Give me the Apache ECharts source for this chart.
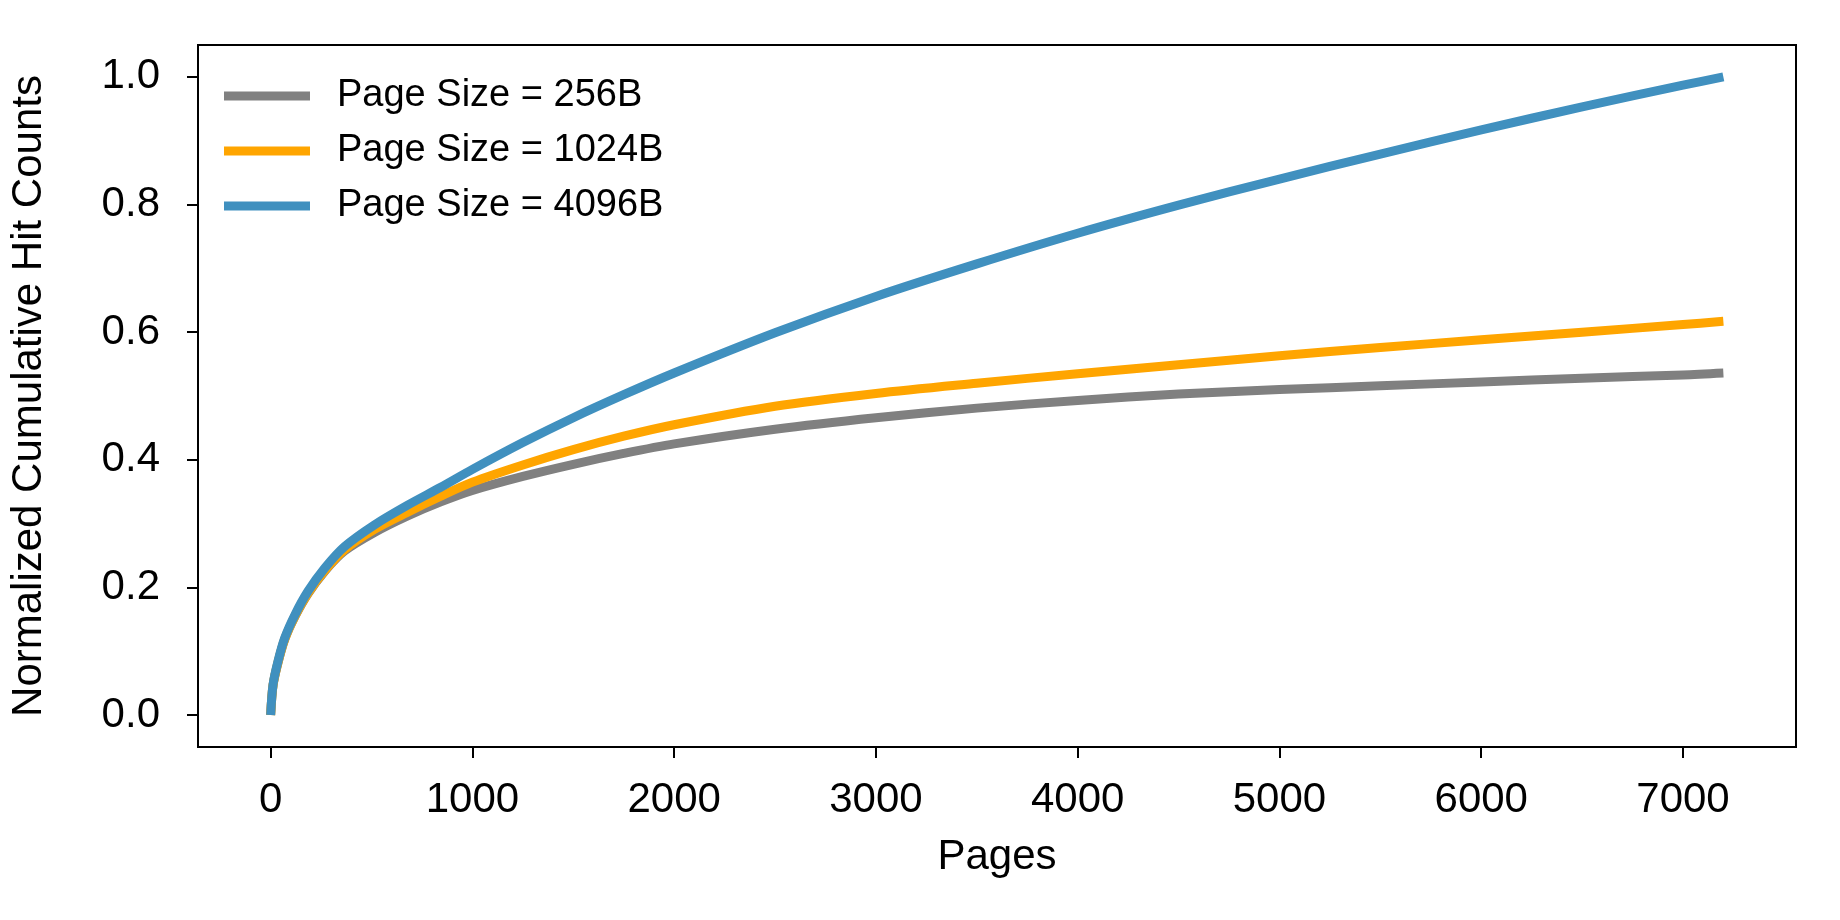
<!DOCTYPE html>
<html>
<head>
<meta charset="utf-8">
<script src="https://cdn.jsdelivr.net/npm/echarts@6/dist/echarts.min.js"></script>
<style>
  html, body { margin: 0; padding: 0; background: #fff; }
  #chart { width: 1840px; height: 920px; }
</style>
</head>
<body>
<div id="chart"></div>
<script>
// ---- data ----
const pages = [0, 12, 37, 70, 120, 185, 267, 366, 514, 679, 843, 1000, 1250, 1500, 1750,
  2000, 2500, 3000, 3500, 4000, 4500, 5000, 5500, 6000, 6500, 7000, 7200];

const hits256 = [0, 0.047, 0.083, 0.119, 0.154, 0.190, 0.225, 0.257, 0.286, 0.312, 0.334, 0.352, 0.374, 0.393, 0.410,
  0.425, 0.448, 0.466, 0.481, 0.493, 0.503, 0.510, 0.516, 0.522, 0.528, 0.533, 0.536];

const hits1024 = [0, 0.047, 0.083, 0.119, 0.155, 0.191, 0.226, 0.259, 0.291, 0.318, 0.343, 0.365, 0.392, 0.416, 0.437,
  0.455, 0.484, 0.504, 0.520, 0.535, 0.549, 0.563, 0.576, 0.588, 0.600, 0.612, 0.617];

const hits4096 = [0, 0.048, 0.085, 0.121, 0.157, 0.194, 0.230, 0.264, 0.298, 0.329, 0.357, 0.385, 0.427, 0.466, 0.502,
  0.536, 0.599, 0.656, 0.707, 0.755, 0.799, 0.840, 0.879, 0.917, 0.953, 0.987, 1.000];

const seriesNames = ['Page Size = 256B', 'Page Size = 1024B', 'Page Size = 4096B'];
const seriesColors = ['#808080', '#FFA500', '#4090bf'];

const xTicks = [0, 1000, 2000, 3000, 4000, 5000, 6000, 7000];
const yTicks = [0, 0.2, 0.4, 0.6, 0.8, 1.0];

const xLabel = 'Pages';
const yLabel = 'Normalized Cumulative Hit Counts';

// ---- chart ----
const FONT = 'Liberation Sans, Arial, sans-serif';
const chart = echarts.init(document.getElementById('chart'), null, { renderer: 'canvas' });

const allValues = [hits256, hits1024, hits4096];
const series = allValues.map((vals, i) => ({
  name: seriesNames[i],
  type: 'line',
  data: pages.map((p, j) => [p, vals[j]]),
  showSymbol: false,
  smooth: 0.3,
  lineStyle: { color: seriesColors[i], width: 9, cap: 'butt', join: 'round' },
  itemStyle: { color: seriesColors[i] },
  z: 2 + i
}));

const option = {
  animation: false,
  backgroundColor: '#ffffff',
  grid: {
    left: 194, right: 44, top: 45, bottom: 173,
    show: true, borderColor: '#000', borderWidth: 2, backgroundColor: 'transparent',
    containLabel: false
  },
  legend: {
    orient: 'vertical',
    left: 224,
    top: 77,
    padding: 0,
    itemWidth: 86,
    itemHeight: 9,
    itemGap: 17,
    icon: 'rect',
    data: seriesNames,
    textStyle: { fontFamily: FONT, fontSize: 38, color: '#000', padding: [0, 0, 0, 22] }
  },
  xAxis: {
    type: 'value',
    min: -360,
    max: 7560,
    name: xLabel,
    nameLocation: 'middle',
    nameGap: 89,
    nameTextStyle: { fontFamily: FONT, fontSize: 42, color: '#000' },
    axisLine: { show: true, onZero: false, lineStyle: { color: '#000', width: 2 } },
    axisTick: { show: true, length: 11, lineStyle: { color: '#000', width: 2 }, customValues: xTicks },
    axisLabel: { show: true, margin: 32, fontFamily: FONT, fontSize: 42, color: '#000', customValues: xTicks,
      formatter: v => String(v) },
    splitLine: { show: false }
  },
  yAxis: {
    type: 'value',
    min: -0.05,
    max: 1.05,
    name: yLabel,
    nameLocation: 'middle',
    nameRotate: 90,
    nameGap: 148,
    nameTextStyle: { fontFamily: FONT, fontSize: 42, color: '#000' },
    axisLine: { show: true, onZero: false, lineStyle: { color: '#000', width: 2 } },
    axisTick: { show: true, length: 11, lineStyle: { color: '#000', width: 2 }, customValues: yTicks },
    axisLabel: { show: true, margin: 38, fontFamily: FONT, fontSize: 42, color: '#000', customValues: yTicks,
      formatter: v => Number(v).toFixed(1) },
    splitLine: { show: false }
  },
  series: series
};

chart.setOption(option);
</script>
</body>
</html>
